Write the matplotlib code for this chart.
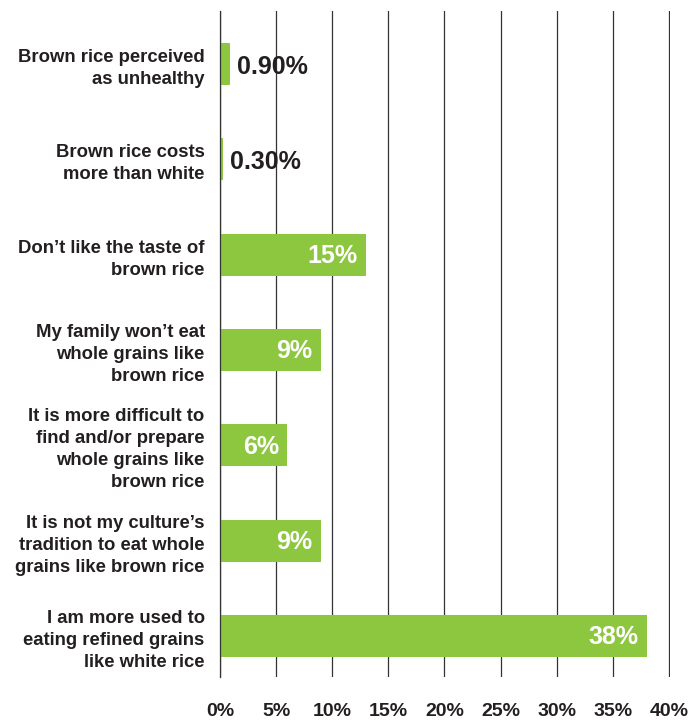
import matplotlib.pyplot as plt

plt.rcParams['font.family'] = ['Liberation Sans', 'DejaVu Sans']

# bar lengths as drawn, and the labels printed on them
categories = [
    "Brown rice perceived\nas unhealthy",
    "Brown rice costs\nmore than white",
    "Don\u2019t like the taste of\nbrown rice",
    "My family won\u2019t eat\nwhole grains like\nbrown rice",
    "It is more difficult to\nfind and/or prepare\nwhole grains like\nbrown rice",
    "It is not my culture\u2019s\ntradition to eat whole\ngrains like brown rice",
    "I am more used to\neating refined grains\nlike white rice",
]
values = [0.9, 0.3, 13, 9, 6, 9, 38]
value_labels = ["0.90%", "0.30%", "15%", "9%", "6%", "9%", "38%"]
xticks = [0, 5, 10, 15, 20, 25, 30, 35, 40]
xtick_labels = ["0%", "5%", "10%", "15%", "20%", "25%", "30%", "35%", "40%"]

green = '#8dc63f'
dark = '#231f20'

fig = plt.figure(figsize=(6.93, 7.21), dpi=100)
ax = fig.add_axes([0.3175, 0.061, 0.6486, 0.9237])

y = list(range(len(categories)))
ax.barh(y, values, height=0.44, color=green, zorder=2)

# value labels: outside for tiny bars, inside (white) otherwise
for yi, v, lab in zip(y, values, value_labels):
    if v < 3:
        ax.annotate(lab, (v, yi), xytext=(5, -2), textcoords='offset points',
                    ha='left', va='center', fontsize=18, fontweight='bold',
                    color=dark, zorder=3)
    else:
        ax.annotate(lab, (v, yi), xytext=(-6, -1), textcoords='offset points',
                    ha='right', va='center', fontsize=18, fontweight='bold',
                    color='white', zorder=3)

ax.set_xlim(0, 40.05)
ax.set_ylim(6.43, -0.556)

ax.set_xticks(xticks)
ax.set_xticklabels(xtick_labels, fontsize=14, fontweight='bold', color=dark)
ax.set_yticks(y)
ax.set_yticklabels(categories, fontsize=13.3, fontweight='bold', color=dark,
                   linespacing=1.38)
ax.tick_params(axis='x', length=0, pad=19)
ax.tick_params(axis='y', length=0, pad=11)

ax.grid(axis='x', color='#333333', linewidth=0.9, zorder=1)
ax.set_axisbelow(True)
for s in ['top', 'right', 'bottom']:
    ax.spines[s].set_visible(False)
ax.spines['left'].set_color('#333333')
ax.spines['left'].set_linewidth(0.9)

fig.savefig('out.png', dpi=100)
